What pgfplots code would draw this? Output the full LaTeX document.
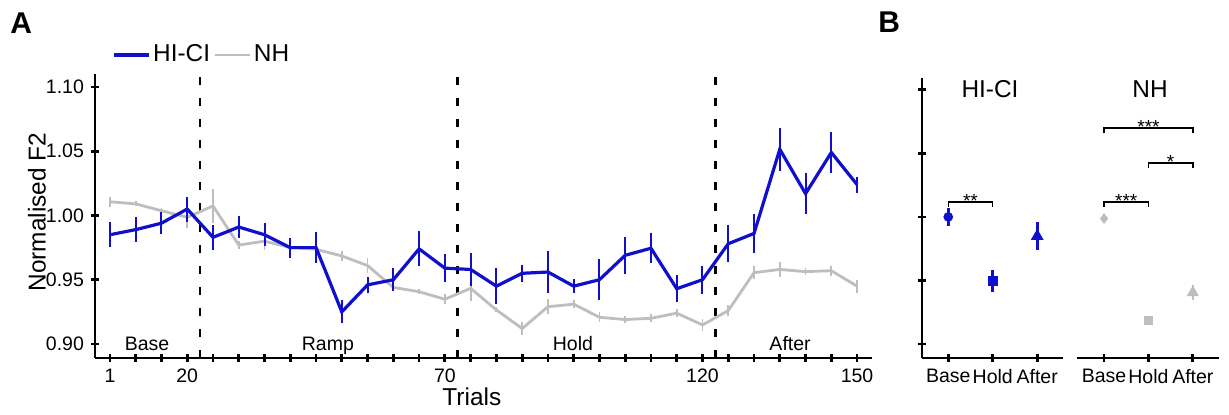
\documentclass[border=0pt]{standalone}
\usepackage{fontspec}
\setmainfont{Liberation Sans}
\usepackage{pgfplots}
\pgfplotsset{compat=1.18}
\usepackage{pgfplotstable}
\definecolor{hiblue}{RGB}{15,15,205}
\definecolor{nhgray}{RGB}{190,190,190}
\newcommand{\smallf}{\fontsize{9.75}{11}\selectfont}
\newcommand{\largef}{\fontsize{12.2}{14}\selectfont}

\pgfplotstableread{
bin y err
1 0.985 0.0097
2 0.989 0.0100
3 0.994 0.0085
4 1.005 0.0097
5 0.983 0.0097
6 0.991 0.0085
7 0.985 0.0090
8 0.975 0.0078
9 0.975 0.0120
10 0.925 0.0090
11 0.946 0.0065
12 0.950 0.0090
13 0.974 0.0136
14 0.959 0.0108
15 0.958 0.0130
16 0.945 0.0139
17 0.955 0.0065
18 0.956 0.0166
19 0.945 0.0057
20 0.950 0.0158
21 0.969 0.0145
22 0.9745 0.0117
23 0.943 0.0104
24 0.950 0.0110
25 0.978 0.0145
26 0.986 0.0150
27 1.0515 0.0169
28 1.017 0.0160
29 1.049 0.0160
30 1.024 0.0062
}\hicitable

\pgfplotstableread{
bin y err
1 1.0107 0.004
2 1.009 0.002
3 1.0037 0.002
4 0.9986 0.0085
5 1.0074 0.013
6 0.977 0.003
7 0.980 0.007
8 0.975 0.003
9 0.9737 0.005
10 0.9685 0.004
11 0.961 0.006
12 0.944 0.002
13 0.9407 0.002
14 0.9348 0.004
15 0.9433 0.010
16 0.9265 0.002
17 0.912 0.005
18 0.929 0.006
19 0.931 0.003
20 0.9208 0.004
21 0.919 0.003
22 0.920 0.003
23 0.924 0.003
24 0.9148 0.005
25 0.926 0.004
26 0.9555 0.005
27 0.958 0.006
28 0.9563 0.003
29 0.957 0.004
30 0.945 0.005
}\nhtable

\pgfplotsset{
  base/.style={
    scale only axis,
    clip=false,
    tick style={line width=1.4pt, black},
    major tick length=4pt,
    tick align=outside,
    ticklabel style={font=\smallf},
    /pgf/number format/assume math mode=true,
  },
  noarrows/.style={
    axis line style={-, line width=1.4pt, black},
    every outer x axis line/.append style={-},
    every outer y axis line/.append style={-},
    every inner x axis line/.append style={-},
    every inner y axis line/.append style={-},
  },
}

\begin{document}
\begin{tikzpicture}
\useasboundingbox (0,0) rectangle (614.5pt,207.5pt);

\node[anchor=base west, inner sep=0pt, font=\fontsize{15}{17}\selectfont\bfseries] at (5pt,190.5pt) {A};
\node[anchor=base west, inner sep=0pt, font=\fontsize{15}{17}\selectfont\bfseries] at (439pt,191pt) {B};

% ---------------- Panel A ----------------
\begin{axis}[base,
  at={(47.5pt,28.5pt)}, anchor=south west,
  width=388.5pt, height=142pt,
  axis x line=bottom, axis y line=left, noarrows,
  xmin=0.42, xmax=30.58,
  ymin=0.8891, ymax=1.1101,
  xtick={1,...,30},
  xticklabels={1,{},{},20,{},{},{},{},{},{},{},{},{},70,{},{},{},{},{},{},{},{},{},120,{},{},{},{},{},150},
  ytick={0.90,0.95,1.00,1.05,1.10},
  yticklabel style={/pgf/number format/.cd, fixed, fixed zerofill, precision=2},
  xlabel={Trials}, ylabel={Normalised F2},
  xlabel style={at={(axis description cs:0.485,-0.169)}, anchor=base, font=\largef, inner sep=0pt},
  ylabel style={at={(axis description cs:-0.0747,0.514)}, anchor=center, font=\largef, inner sep=0pt},
  legend columns=2,
  legend style={at={(axis description cs:0.0219,1.067)}, anchor=west, draw=none, fill=none,
    inner sep=0pt, outer sep=0pt, font=\largef,
    nodes={inner sep=1.5pt},
    /tikz/every even column/.append style={column sep=0pt}},
  legend image code/.code={\draw[#1] (0pt,0pt) -- (17.5pt,0pt);},
]
\addlegendimage{hiblue, line width=1.6pt}
\addlegendentry{HI-CI}
\addlegendimage{nhgray, line width=1.4pt}
\addlegendentry{NH}

% dashed phase separators
\addplot[black, line width=1.35pt, dash pattern=on 4pt off 6.5pt, forget plot] coordinates {(4.5,0.8891) (4.5,1.1101)};
\addplot[black, line width=1.35pt, dash pattern=on 4pt off 6.5pt, forget plot] coordinates {(14.5,0.8891) (14.5,1.1101)};
\addplot[black, line width=1.35pt, dash pattern=on 4pt off 6.5pt, forget plot] coordinates {(24.5,0.8891) (24.5,1.1101)};

\addplot[nhgray, line width=1.4pt, mark=none, forget plot,
  error bars/.cd, y dir=both, y explicit, error mark=none,
  error bar style={line width=0.9pt, nhgray}]
  table[x=bin, y=y, y error=err] {\nhtable};
\addplot[hiblue, line width=1.6pt, mark=none, forget plot,
  error bars/.cd, y dir=both, y explicit, error mark=none,
  error bar style={line width=1pt, hiblue}]
  table[x=bin, y=y, y error=err] {\hicitable};

\node[font=\smallf, anchor=base] at (axis cs:2.44,0.8948) {Base};
\node[font=\smallf, anchor=base] at (axis cs:9.46,0.8948) {Ramp};
\node[font=\smallf, anchor=base] at (axis cs:18.97,0.8948) {Hold};
\node[font=\smallf, anchor=base] at (axis cs:27.4,0.8948) {After};
\end{axis}

% ---------------- Panel B, HI-CI ----------------
\begin{axis}[base,
  at={(461pt,28.5pt)}, anchor=south west,
  width=70.5pt, height=140pt,
  axis x line=bottom, axis y line=left, noarrows,
  xmin=0.41, xmax=3.58,
  ymin=0.889, ymax=1.1093,
  xtick={1,2,3}, xticklabels={Base,Hold,After},
  ytick={0.90,0.95,1.00,1.05,1.10}, yticklabels={},
]
\addplot[hiblue, only marks, mark=*, mark size=2.2pt,
  error bars/.cd, y dir=both, y explicit, error mark=none,
  error bar style={line width=1.3pt, hiblue}]
  coordinates {(1,1.000) +- (0,0.0069)};
\addplot[hiblue, only marks, mark=square*, mark size=2.2pt,
  error bars/.cd, y dir=both, y explicit, error mark=none,
  error bar style={line width=1.3pt, hiblue}]
  coordinates {(2,0.9496) +- (0,0.0087)};
\addplot[hiblue, only marks, mark=triangle*, mark size=3.3pt,
  error bars/.cd, y dir=both, y explicit, error mark=none,
  error bar style={line width=1.3pt, hiblue}]
  coordinates {(3,0.9848) +- (0,0.011)};
\draw[line width=0.7pt] (axis cs:1,1.0079) -- (axis cs:1,1.0118) -- (axis cs:2,1.0118) -- (axis cs:2,1.0079);
\node[font=\fontsize{9.5}{11}\selectfont, anchor=base, inner sep=0pt, yshift=-2.7pt] at (axis cs:1.5,1.0118) {**};
\node[font=\largef, anchor=base] at (rel axis cs:0.482,0.932) {HI-CI};
\end{axis}

% ---------------- Panel B, NH ----------------
\begin{axis}[base,
  at={(538.5pt,28.5pt)}, anchor=south west,
  width=71pt, height=140pt,
  axis x line=bottom, axis y line=none, noarrows,
  xmin=0.39, xmax=3.59,
  ymin=0.889, ymax=1.1093,
  xtick={1,2,3}, xticklabels={Base,Hold,After},
]
\addplot[nhgray, only marks, mark=diamond*, mark size=2.4pt,
  error bars/.cd, y dir=both, y explicit, error mark=none,
  error bar style={line width=1.3pt, nhgray}]
  coordinates {(1,0.9987) +- (0,0.003)};
\addplot[nhgray, only marks, mark=square*, mark size=2.1pt,
  error bars/.cd, y dir=both, y explicit, error mark=none,
  error bar style={line width=1.3pt, nhgray}]
  coordinates {(2,0.9187) +- (0,0.003)};
\addplot[nhgray, only marks, mark=triangle*, mark size=3.1pt,
  error bars/.cd, y dir=both, y explicit, error mark=none,
  error bar style={line width=1.3pt, nhgray}]
  coordinates {(3,0.9405) +- (0,0.006)};
\draw[line width=0.7pt] (axis cs:1,1.0659) -- (axis cs:1,1.0698) -- (axis cs:3,1.0698) -- (axis cs:3,1.0659);
\draw[line width=0.7pt] (axis cs:2,1.0386) -- (axis cs:2,1.0425) -- (axis cs:3,1.0425) -- (axis cs:3,1.0386);
\draw[line width=0.7pt] (axis cs:1,1.0079) -- (axis cs:1,1.0118) -- (axis cs:2,1.0118) -- (axis cs:2,1.0079);
\node[font=\fontsize{9.5}{11}\selectfont, anchor=base, inner sep=0pt, yshift=-2.7pt] at (axis cs:2,1.0698) {***};
\node[font=\fontsize{9.5}{11}\selectfont, anchor=base, inner sep=0pt, yshift=-2.7pt] at (axis cs:2.5,1.0425) {*};
\node[font=\fontsize{9.5}{11}\selectfont, anchor=base, inner sep=0pt, yshift=-2.7pt] at (axis cs:1.5,1.0118) {***};
\node[font=\largef, anchor=base] at (rel axis cs:0.514,0.932) {NH};
\end{axis}
\end{tikzpicture}
\end{document}
